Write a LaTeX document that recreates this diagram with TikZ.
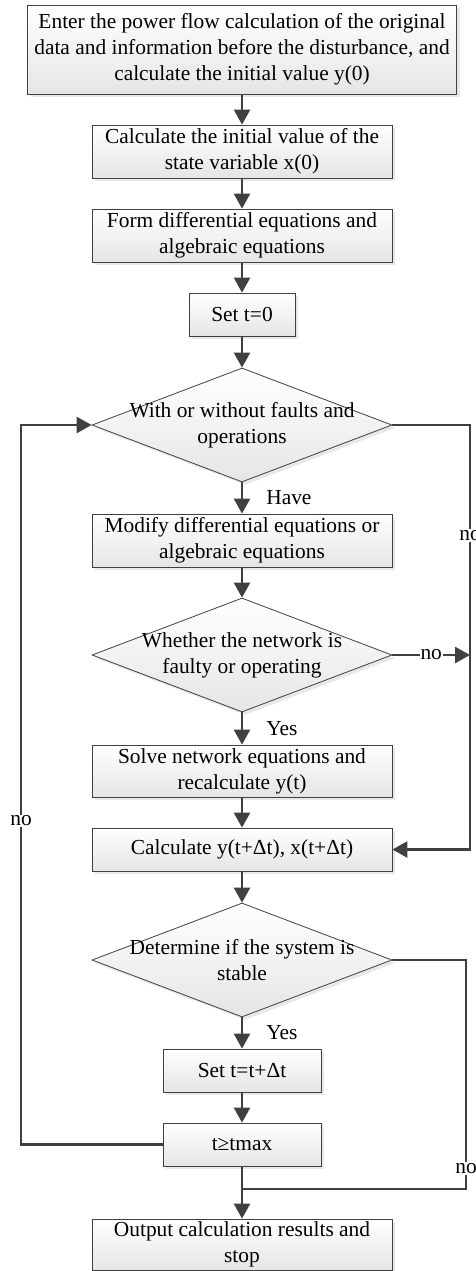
\documentclass[tikz,border=0pt]{standalone}
\usepackage{fontspec}
\setmainfont{Liberation Serif}
\usetikzlibrary{shapes.geometric,arrows.meta,shadows}
\definecolor{gris}{RGB}{64,64,64}

\begin{document}
\begin{tikzpicture}[x=1pt,y=-1pt]
\tikzset{boite/.style={draw=gris, line width=0.8pt, top color=white, bottom color=black!10,
    drop shadow={shadow xshift=3pt, shadow yshift=-3pt, fill=black!18},
    align=center, inner sep=0pt, font=\fontsize{21.4}{26}\selectfont}}
\tikzset{losange/.style={boite, diamond, minimum width=300pt, minimum height=114pt}}
\tikzset{texte/.style={align=center, inner sep=0pt, font=\fontsize{21.4}{26}\selectfont}}
\tikzset{fleche/.style={draw=gris, line width=2.6pt, -{Triangle[length=15pt,width=16pt]}}}
\tikzset{trait/.style={draw=gris, line width=2.6pt}}
\tikzset{etiq/.style={font=\fontsize{21.4}{24}\selectfont, fill=white, inner sep=1pt}}
\useasboundingbox (0,0) rectangle (475,1271);
\node[boite, minimum width=429pt, minimum height=89pt] (B1) at (242,49.5)
  {Enter the power flow calculation of the original\\data and information before the disturbance, and\\calculate the initial value y(0)};
\node[boite, minimum width=300pt, minimum height=53pt] (B2) at (242,151.5)
  {Calculate the initial value of the\\state variable x(0)};
\node[boite, minimum width=300pt, minimum height=53pt] (B3) at (242,235.5)
  {Form differential equations and\\algebraic equations};
\node[boite, minimum width=106pt, minimum height=43pt] (B4) at (242,314.5) {Set t=0};
\node[losange, label={[texte]center:With or without faults and\\operations}] (D1) at (242,425) {};
\node[boite, minimum width=300pt, minimum height=53pt] (B5) at (242,540.5)
  {Modify differential equations or\\algebraic equations};
\node[losange, label={[texte]center:Whether the network is\\faulty or operating}] (D2) at (242,655) {};
\node[boite, minimum width=300pt, minimum height=52pt] (B6) at (242,771)
  {Solve network equations and\\recalculate y(t)};
\node[boite, minimum width=300pt, minimum height=43pt] (B7) at (242,849.5) {Calculate y(t+Δt), x(t+Δt)};
\node[losange, label={[texte]center:Determine if the system is\\stable}] (D3) at (242,960) {};
\node[boite, minimum width=158pt, minimum height=43pt] (B8) at (242,1070.5) {Set t=t+Δt};
\node[boite, minimum width=158pt, minimum height=43pt] (B9) at (242,1144.5) {t≥tmax};
\node[boite, minimum width=300pt, minimum height=51pt] (B10) at (242,1244.5)
  {Output calculation results and\\stop};
\coordinate (G1) at (21,1144.5);
\coordinate (G2) at (21,425);
\coordinate (R1) at (470,425);
\coordinate (R2) at (470,849.5);
\coordinate (R3) at (470,655);
\coordinate (S1) at (466,960);
\coordinate (S2) at (466,1189);
\coordinate (S3) at (242,1189);
\draw[fleche] (B1) -- (B2);
\draw[fleche] (B2) -- (B3);
\draw[fleche] (B3) -- (B4);
\draw[fleche] (B4) -- (D1);
\draw[fleche] (D1) -- node[right=22pt, etiq] {Have} (B5);
\draw[fleche] (B5) -- (D2);
\draw[fleche] (D2) -- node[right=22pt, etiq] {Yes} (B6);
\draw[fleche] (B6) -- (B7);
\draw[fleche] (B7) -- (D3);
\draw[fleche] (D3) -- node[right=22pt, etiq] {Yes} (B8);
\draw[fleche] (B8) -- (B9);
\draw[fleche] (B9) -- (B10);
\draw[fleche] (B9.west) -- (G1) -- node[pos=0.45, etiq] {no} (G2) -- (D1.west);
\draw[fleche] (D1.east) -- (R1) -- node[pos=0.26, etiq] {no} (R2) -- (B7.east);
\draw[fleche] (D2.east) -- node[etiq] {no} (R3);
\draw[trait] (D3.east) -- (S1) -- node[pos=0.91, etiq] {no} (S2) -- (S3);
\end{tikzpicture}
\end{document}
